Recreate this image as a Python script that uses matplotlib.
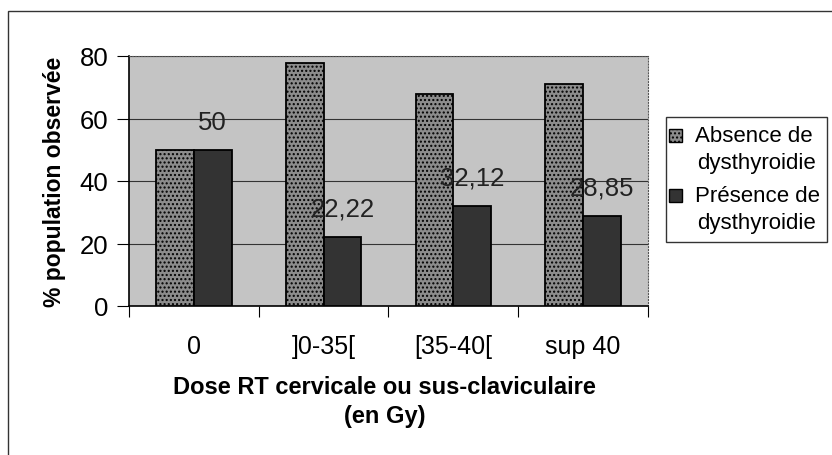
import matplotlib.pyplot as plt
import numpy as np
from matplotlib.patches import Rectangle

plt.rcParams['font.family'] = ['Liberation Sans', 'DejaVu Sans']
plt.rcParams['hatch.color'] = '#5e5e5e'

categories = ['0', ']0-35[', '[35-40[', 'sup 40']
absence = [50, 77.78, 67.88, 71.15]
presence = [50, 22.22, 32.12, 28.85]
presence_labels = ['50', '22,22', '32,12', '28,85']
series_names = [['Absence de', 'dysthyroidie'], ['Présence de', 'dysthyroidie']]

W, H = 832, 456
fig = plt.figure(figsize=(W/100, H/100), dpi=100)
ax = fig.add_axes([129/W, 1-307/H, 519/W, 250/H])

def fx(px):
    return px / W

def fy(py):
    return 1 - py / H

# outer chart frame
fig.patches.append(Rectangle((fx(8), -0.05), 1.1, fy(12) + 0.05, transform=fig.transFigure,
                             fill=False, edgecolor='#333333', lw=1.0))

x = np.arange(len(categories))
w = 0.29
ax.set_facecolor('#c4c4c4')
styles = [dict(color='#8c8c8c', hatch='....'), dict(color='#333333', hatch=None)]
ax.bar(x - w/2, absence, w, edgecolor='black', lw=1.3, zorder=3, **styles[0])
ax.bar(x + w/2, presence, w, edgecolor='black', lw=1.3, zorder=3, **styles[1])

for xi, v, s in zip(x, presence, presence_labels):
    ax.text(xi + w/2, v + 9, s, ha='center', va='center', fontsize=18.5, color='#222222', zorder=4)

ax.set_xlim(-0.5, 3.5)
ax.set_ylim(0, 80)
ax.set_yticks([0, 20, 40, 60, 80])
ax.yaxis.grid(True, color='#333333', lw=0.8, zorder=1)
ax.set_xticks(np.arange(-0.5, 4, 1))
ax.set_xticklabels([])
ax.set_xticks(x, minor=True)
ax.set_xticklabels(categories, minor=True, fontsize=18)
ax.tick_params(axis='x', which='minor', length=0, pad=20)
ax.tick_params(axis='x', which='major', length=8, direction='out')
ax.tick_params(axis='y', labelsize=18.5, length=9, direction='out', pad=6)
for side in ['top', 'right']:
    ax.spines[side].set_color('#555555')
    ax.spines[side].set_linestyle(':')
ax.spines['left'].set_linewidth(1.2)
ax.spines['bottom'].set_linewidth(1.2)

ax.set_ylabel('% population observée', fontsize=16.5, fontweight='bold', va='center')
ax.yaxis.set_label_coords((55 - 129) / 519, 0.5)
ax.set_xlabel('Dose RT cervicale ou sus-claviculaire\n(en Gy)', fontsize=17,
              fontweight='bold', va='center', linespacing=1.3)
ax.xaxis.set_label_coords(0.493, (307 - 402) / 250)

# legend drawn by hand so the keys sit on the first line of each label
fig.patches.append(Rectangle((fx(666), fy(243)), fx(827) - fx(666), fy(118) - fy(243),
                             transform=fig.transFigure, facecolor='white',
                             edgecolor='#333333', lw=1.0))
for (l1, l2), st, yc in zip(series_names, styles, [136, 196]):
    fig.patches.append(Rectangle((fx(669), fy(yc + 7)), fx(13), 13 / H,
                                 transform=fig.transFigure, facecolor=st['color'],
                                 hatch=st['hatch'], edgecolor='black', lw=1.0))
    fig.text(fx(695), fy(yc), l1, fontsize=16, va='center', ha='left')
    fig.text(fx(697), fy(yc + 28), l2, fontsize=16, va='center', ha='left')

fig.savefig('out.png', dpi=100)
